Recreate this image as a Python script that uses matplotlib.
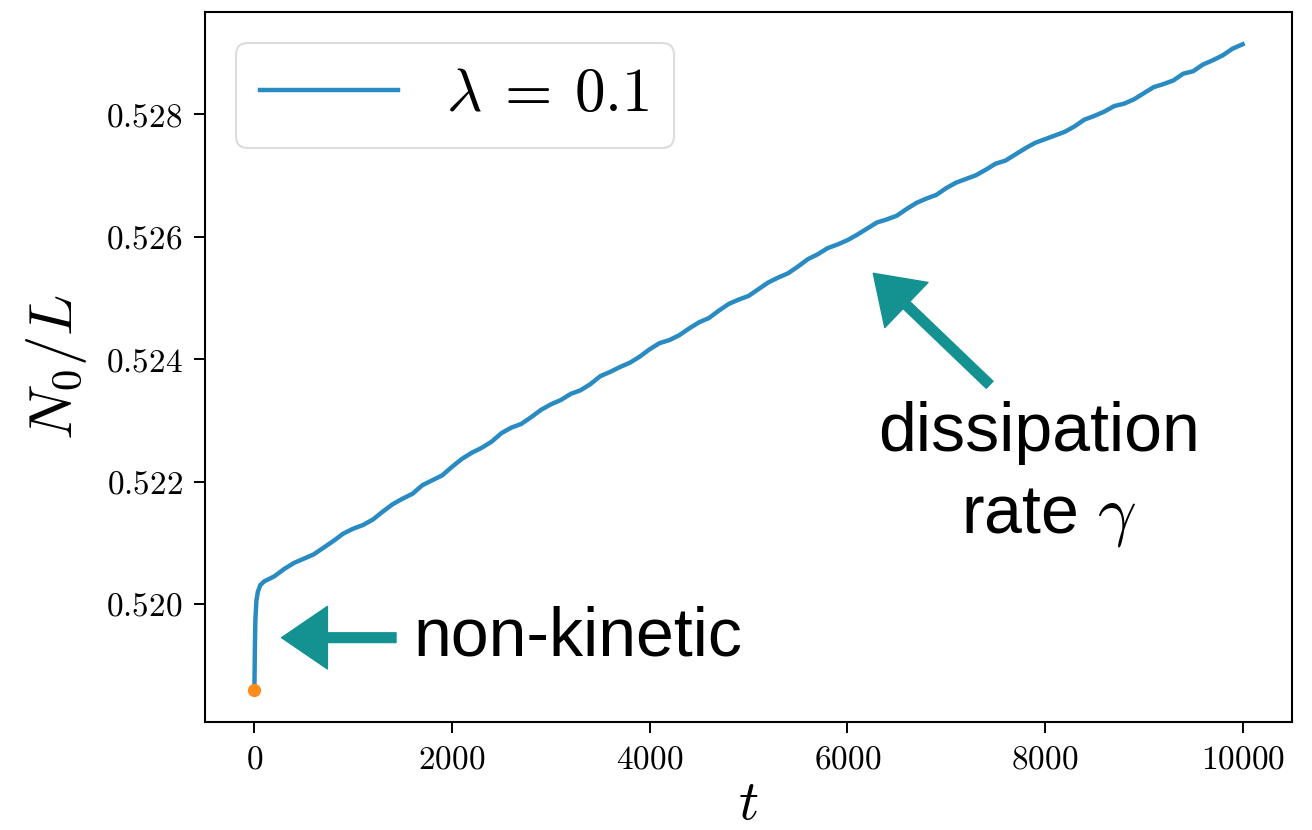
import matplotlib
matplotlib.use("Agg")
import matplotlib.pyplot as plt
from matplotlib.ticker import FuncFormatter

plt.rcParams["mathtext.fontset"] = "cm"
plt.rcParams["font.family"] = ["Liberation Sans", "DejaVu Sans"]

# data
t_vals = [0, 5, 10, 20, 35, 60] + list(range(100, 10001, 100))
n0_vals = [
    0.51860, 0.51930, 0.51975, 0.52005, 0.52020, 0.52031,
    0.52037, 0.52045, 0.52057, 0.52067, 0.52074, 0.52081, 0.52092, 0.52103, 0.52115, 0.52123,
    0.52129, 0.52138, 0.52151, 0.52163, 0.52172, 0.52180, 0.52194, 0.52202, 0.52210, 0.52224,
    0.52237, 0.52247, 0.52255, 0.52265, 0.52279, 0.52288, 0.52294, 0.52305, 0.52317, 0.52326,
    0.52333, 0.52343, 0.52349, 0.52359, 0.52372, 0.52379, 0.52387, 0.52394, 0.52404, 0.52416,
    0.52426, 0.52431, 0.52439, 0.52450, 0.52460, 0.52467, 0.52479, 0.52490, 0.52497, 0.52503,
    0.52514, 0.52525, 0.52533, 0.52540, 0.52551, 0.52563, 0.52571, 0.52581, 0.52587, 0.52594,
    0.52603, 0.52613, 0.52623, 0.52628, 0.52634, 0.52645, 0.52655, 0.52662, 0.52668, 0.52679,
    0.52688, 0.52694, 0.52700, 0.52709, 0.52719, 0.52724, 0.52734, 0.52744, 0.52753, 0.52759,
    0.52765, 0.52771, 0.52780, 0.52791, 0.52797, 0.52804, 0.52813, 0.52817, 0.52824, 0.52834,
    0.52844, 0.52849, 0.52855, 0.52866, 0.52870, 0.52881, 0.52888, 0.52896, 0.52907, 0.52914,
]
start_t = [0]
start_n0 = [0.51860]

x_ticks = [0, 2000, 4000, 6000, 8000, 10000]
y_ticks = [0.520, 0.522, 0.524, 0.526, 0.528]
legend_label = r"$\lambda \:=\: 0.1$"

# annotation anchor points (data coords)
arrow1_tip, arrow1_tail = (275, 0.51945), (1433, 0.51945)
arrow2_tip, arrow2_tail = (6263, 0.52540), (7440, 0.52358)
teal = "#149191"

fig = plt.figure(figsize=(13.12, 8.30), dpi=100)
ax = fig.add_axes([205 / 1312, 1 - 722 / 830, 1087 / 1312, 710 / 830])

ax.plot(t_vals, n0_vals, color="#2a8bc3", lw=3.2, label=legend_label)
ax.plot(start_t, start_n0, "o", color="#ff8c1a", ms=8.5, zorder=3)

ax.set_xticks(x_ticks)
ax.set_yticks(y_ticks)
ax.xaxis.set_major_formatter(FuncFormatter(lambda v, p: f"${v:.0f}$"))
ax.yaxis.set_major_formatter(FuncFormatter(lambda v, p: f"${v:.3f}$"))
ax.tick_params(labelsize=24, length=8, width=1.4, pad=8)
for s in ax.spines.values():
    s.set_linewidth(1.5)

ax.set_xlabel(r"$t$", fontsize=40, labelpad=3)
ax.set_ylabel(r"$N_0/L$", fontsize=44, labelpad=12)

leg = ax.legend(loc="upper left", fontsize=44, handlelength=2.25,
                borderaxespad=0.5, fancybox=True)
leg.get_frame().set_linewidth(1.5)
leg.get_frame().set_edgecolor("#d4d4d4")

arrow_style = "simple,head_length=33,head_width=45,tail_width=7"
for tip, tail in [(arrow1_tip, arrow1_tail), (arrow2_tip, arrow2_tail)]:
    ax.annotate("", xy=tip, xytext=tail,
                arrowprops=dict(arrowstyle=arrow_style, color=teal,
                                shrinkA=0, shrinkB=0, mutation_scale=1))

ax.text(1607, 0.51916, "non-kinetic", fontsize=49, va="baseline", ha="left")
ax.text(7941, 0.522494, "dissipation", fontsize=49, va="baseline", ha="center")
ax.text(8031, 0.52117, r"rate $\gamma$", fontsize=49, va="baseline", ha="center")

fig.savefig("out.png", dpi=100)
